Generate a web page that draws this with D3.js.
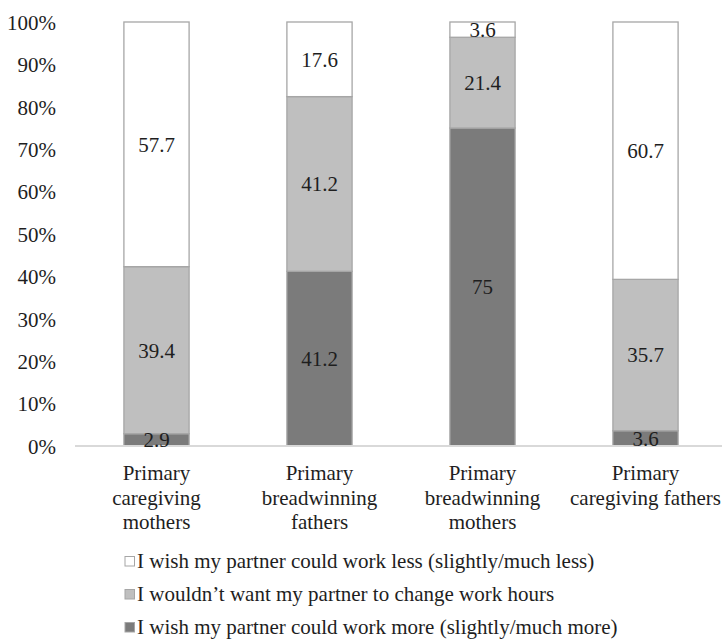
<!DOCTYPE html>
<html>
<head>
<meta charset="utf-8">
<script src="https://cdn.jsdelivr.net/npm/d3@7"></script>
<style>
  html, body { margin: 0; padding: 0; background: #fff; }
</style>
</head>
<body>
<svg id="chart" width="724" height="640" font-family="'Liberation Serif', 'Times New Roman', 'DejaVu Serif', serif"></svg>
<script>
// Groups of respondents (category labels split into lines)
const categories = [
  ["Primary", "caregiving", "mothers"],
  ["Primary", "breadwinning", "fathers"],
  ["Primary", "breadwinning", "mothers"],
  ["Primary", "caregiving fathers"]
];

// Share of answers per group (%), stacked bottom to top
const workMore = [2.9, 41.2, 75, 3.6];
const noChange = [39.4, 41.2, 21.4, 35.7];
const workLess = [57.7, 17.6, 3.6, 60.7];

const seriesNames = [
  "I wish my partner could work less (slightly/much less)",
  "I wouldn\u2019t want my partner to change work hours",
  "I wish my partner could work more (slightly/much more)"
];

const yTicks = [0, 10, 20, 30, 40, 50, 60, 70, 80, 90, 100];

const FONT = "'Liberation Serif', 'Times New Roman', 'DejaVu Serif', serif";
const FS = "21px";
const svg = d3.select("#chart");

const x = d3.scaleBand()
  .domain(d3.range(categories.length))
  .range([75, 727])
  .paddingInner(0.6)
  .paddingOuter(0.3);

const y = d3.scaleLinear().domain([0, 100]).range([446, 22]);

const fills = { more: "#7b7b7b", same: "#bfbfbf", less: "#ffffff" };

const rows = categories.map((c, i) => ({ i, more: workMore[i], same: noChange[i], less: workLess[i] }));
const stacked = d3.stack().keys(["more", "same", "less"])(rows);

function styleText(sel) {
  return sel.attr("font-family", FONT).style("font-family", FONT).style("font-size", FS).attr("fill", "#1e1e1e");
}

// Y axis labels
const yAxis = d3.axisLeft(y).tickValues(yTicks).tickFormat(d => d + "%").tickSize(0).tickPadding(0);
const yg = svg.append("g").attr("transform", "translate(56,0)").call(yAxis);
yg.attr("font-family", FONT);
yg.select(".domain").remove();
styleText(yg.selectAll("text")).attr("dy", "0.35em");

// Bars
stacked.forEach(layer => {
  svg.append("g").selectAll("rect")
    .data(layer)
    .join("rect")
    .attr("x", d => x(d.data.i))
    .attr("width", x.bandwidth())
    .attr("y", d => y(d[1]))
    .attr("height", d => y(d[0]) - y(d[1]))
    .attr("fill", fills[layer.key])
    .attr("stroke", "#a6a6a6")
    .attr("stroke-width", 1.3);
});

// Baseline
svg.append("line")
  .attr("x1", 75).attr("x2", 722)
  .attr("y1", y(0)).attr("y2", y(0))
  .attr("stroke", "#d9d9d9").attr("stroke-width", 2);

// Value labels
stacked.forEach(layer => {
  styleText(svg.append("g").selectAll("text")
    .data(layer)
    .join("text"))
    .attr("x", d => x(d.data.i) + x.bandwidth() / 2)
    .attr("y", d => (y(d[0]) + y(d[1])) / 2)
    .attr("dy", "0.35em")
    .attr("text-anchor", "middle")
    .text(d => +(d[1] - d[0]).toFixed(1));
});

// Category labels
categories.forEach((lines, i) => {
  const t = styleText(svg.append("text")).attr("text-anchor", "middle");
  lines.forEach((ln, k) => {
    t.append("tspan")
      .attr("x", x(i) + x.bandwidth() / 2)
      .attr("y", 480 + k * 24.5)
      .text(ln);
  });
});

// Legend
const legendFills = [fills.less, fills.same, fills.more];
seriesNames.forEach((name, k) => {
  const cy = 561 + k * 33;
  svg.append("rect")
    .attr("x", 125).attr("y", cy - 4.5)
    .attr("width", 9.5).attr("height", 9.5)
    .attr("fill", legendFills[k])
    .attr("stroke", "#a6a6a6").attr("stroke-width", 1);
  styleText(svg.append("text"))
    .attr("x", 137).attr("y", cy)
    .attr("dy", "0.35em")
    .text(name);
});
</script>
</body>
</html>
